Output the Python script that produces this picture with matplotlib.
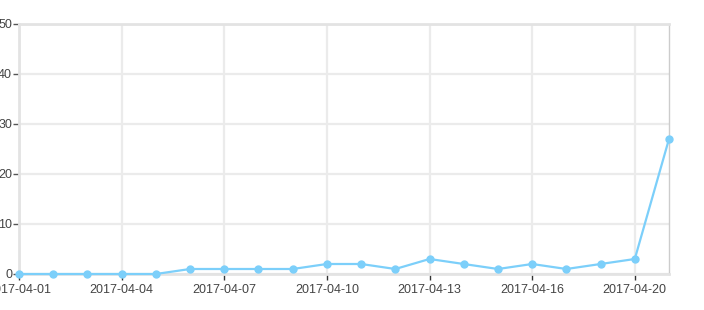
import matplotlib.pyplot as plt

dates = ["2017-04-01", "2017-04-02", "2017-04-03", "2017-04-04", "2017-04-05",
         "2017-04-06", "2017-04-07", "2017-04-08", "2017-04-09", "2017-04-10",
         "2017-04-11", "2017-04-12", "2017-04-13", "2017-04-14", "2017-04-15",
         "2017-04-16", "2017-04-17", "2017-04-18", "2017-04-20", "2017-04-21"]
counts = [0, 0, 0, 0, 0, 1, 1, 1, 1, 2, 2, 1, 3, 2, 1, 2, 1, 2, 3, 27]
y_ticks = [0, 10, 20, 30, 40, 50]

plt.rcParams["font.family"] = ["Liberation Sans", "DejaVu Sans"]

fig = plt.figure(figsize=(7.04, 3.10), dpi=100)
ax = fig.add_axes([19 / 704, 36 / 310, 650 / 704, 250 / 310])

x = list(range(len(dates)))
ax.plot(x, counts, color="#7ccffa", linewidth=1.6, marker="o", markersize=5,
        clip_on=False, zorder=3)

ax.set_xlim(0, len(dates) - 1)
ax.set_ylim(0, 50)
ax.set_yticks(y_ticks)
ax.set_xticks(x[::3])
ax.set_xticklabels(dates[::3])

ax.grid(True, color="#ebebeb", linewidth=1.6)
ax.set_axisbelow(True)

for side in ["left", "bottom", "top"]:
    ax.spines[side].set_color("#e3e3e3")
    ax.spines[side].set_linewidth(2)
ax.spines["right"].set_color("#cccccc")
ax.spines["right"].set_linewidth(1)

ax.tick_params(axis="y", length=4, width=1, color="#555555", labelsize=9,
               labelcolor="#444444", pad=1)
ax.tick_params(axis="x", length=4, width=1, color="#333333", labelsize=9,
               labelcolor="#444444", pad=3)

fig.savefig("out.png", dpi=100)
